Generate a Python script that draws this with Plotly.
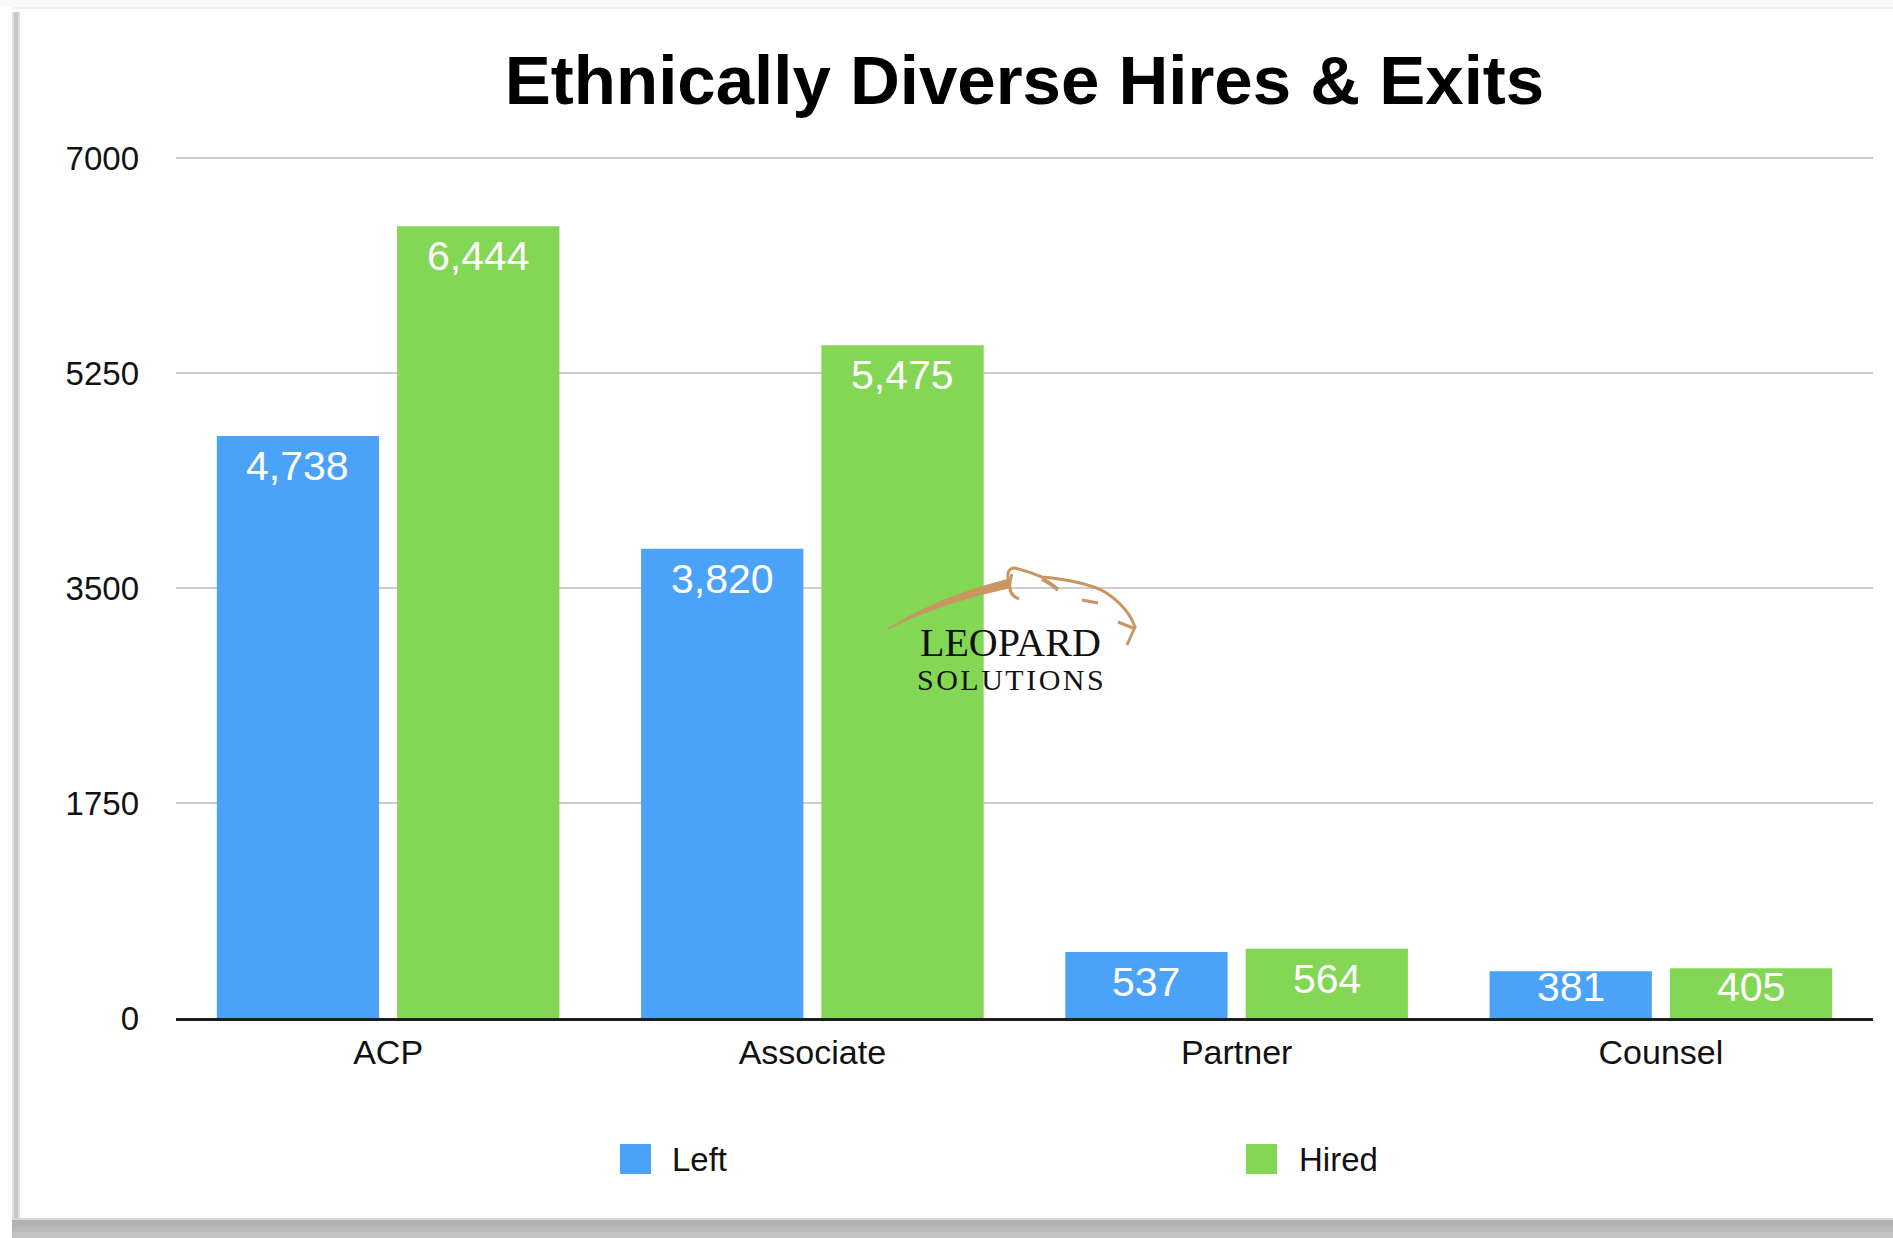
import plotly.graph_objects as go

# ---- data ----
categories = ["ACP", "Associate", "Partner", "Counsel"]
left_values = [4738, 3820, 537, 381]
hired_values = [6444, 5475, 564, 405]
y_ticks = [0, 1750, 3500, 5250, 7000]
y_tick_labels = ["0", "1750", "3500", "5250", "7000"]

# ---- styling ----
W, H = 1893, 1238
PLOT_L, PLOT_R, PLOT_T, PLOT_B = 176, 1873, 156, 1018
Y_MAX = 7000
PX_PER_UNIT = 860 / Y_MAX               # 7000 sits 860 px above the baseline
Y_TOP = (PLOT_B - PLOT_T) / PX_PER_UNIT  # a little headroom so the top gridline shows
BLUE = "#4AA3F8"
GREEN = "#84D655"
TAN = "#C9965F"
FONT = "Liberation Sans, Arial, Helvetica, sans-serif"
SERIF = "Liberation Serif, DejaVu Serif, serif"
BARGAP = 0.15


def px(x):
    """pixel x -> paper x"""
    return (x - PLOT_L) / (PLOT_R - PLOT_L)


def py(y):
    """pixel y -> paper y"""
    return (PLOT_B - y) / (PLOT_B - PLOT_T)


def rect(x0, y0, x1, y1, color, layer="below"):
    return dict(type="rect", xref="paper", yref="paper",
                x0=px(x0), x1=px(x1), y0=py(y1), y1=py(y0),
                fillcolor=color, line=dict(width=0), layer=layer)


def path(points_cmd, color, width=0, fill=None):
    parts = []
    for cmd, pts in points_cmd:
        coords = " ".join(f"{px(x):.5f},{py(y):.5f}" for x, y in pts)
        parts.append(f"{cmd} {coords}")
    d = " ".join(parts)
    shp = dict(type="path", xref="paper", yref="paper", path=d, layer="above",
               line=dict(color=color, width=width))
    if fill:
        shp["fillcolor"] = fill
        shp["path"] = d + " Z"
    return shp


fig = go.Figure()

fig.add_trace(go.Bar(
    name="Left", x=categories, y=left_values,
    marker=dict(color=BLUE, line=dict(width=0)),
    showlegend=False, hoverinfo="skip",
))
fig.add_trace(go.Bar(
    name="Hired", x=categories, y=hired_values,
    marker=dict(color=GREEN, line=dict(width=0)),
    showlegend=False, hoverinfo="skip",
))

shapes = []
# card shadow: top hairline, left edge and bottom band
shapes.append(rect(0, 0, W, 7, "#FAFAFA"))
shapes.append(rect(12, 7, W, 9, "#F1F1F1"))
shapes.append(rect(12, 12, 14, 1238, "#E2E2E2"))
shapes.append(rect(14, 12, 18, 1238, "#C8C8C8"))
shapes.append(rect(18, 12, 20, 1238, "#DDDDDD"))
shapes.append(rect(12, 1218, W, 1220, "#D6D6D6"))
shapes.append(rect(12, 1220, W, 1226, "#B2B2B2"))
shapes.append(rect(12, 1226, W, 1232, "#B8B8B8"))
shapes.append(rect(12, 1232, W, 1238, "#C2C2C2"))

# legend swatches
shapes.append(rect(620, 1144, 651, 1174, BLUE, layer="above"))
shapes.append(rect(1246, 1144, 1277, 1174, GREEN, layer="above"))

# watermark emblem (leopard outline)
shapes.append(path([("M", [(887, 629)]), ("Q", [(940, 596), (1009, 579)]),
                    ("L", [(1009, 588)]), ("Q", [(945, 601), (887, 629)])],
                   TAN, width=1, fill=TAN))
shapes.append(path([("M", [(1009, 583)]), ("Q", [(1005, 568), (1015, 568)]),
                    ("Q", [(1030, 572), (1042, 577)]),
                    ("Q", [(1085, 581), (1105, 592)]),
                    ("Q", [(1128, 607), (1135, 627)]),
                    ("L", [(1127, 645)])], TAN, width=3))
shapes.append(path([("M", [(1012, 574)]), ("Q", [(1005, 594), (1019, 599)])], TAN, width=3))
shapes.append(path([("M", [(1042, 579)]), ("Q", [(1052, 584), (1058, 590)])], TAN, width=4))
shapes.append(path([("M", [(1082, 600)]), ("L", [(1098, 603)])], TAN, width=3))
shapes.append(path([("M", [(1118, 622)]), ("L", [(1133, 628)])], TAN, width=3))

annotations = [
    dict(text="Left", xref="paper", yref="paper", x=px(670), y=py(1159),
         xanchor="left", yanchor="middle", showarrow=False,
         font=dict(size=33, color="#111", family=FONT)),
    dict(text="Hired", xref="paper", yref="paper", x=px(1297), y=py(1159),
         xanchor="left", yanchor="middle", showarrow=False,
         font=dict(size=33, color="#111", family=FONT)),
    dict(text="LEOPARD", xref="paper", yref="paper", x=px(1010), y=py(642),
         xanchor="center", yanchor="middle", showarrow=False,
         font=dict(size=40, color="#111", family=SERIF)),
    dict(text="S\u200aO\u200aL\u200aU\u200aT\u200aI\u200aO\u200aN\u200aS", xref="paper", yref="paper",
         x=px(1010), y=py(679), xanchor="center", yanchor="middle", showarrow=False,
         font=dict(size=30, color="#111", family=SERIF)),
]

# value labels inside the top of each bar (kept clear of the baseline on short bars)
offset = (1 - BARGAP) / 4
for series, shift in ((left_values, -offset), (hired_values, offset)):
    for i, v in enumerate(series):
        label_y = max(v - 30 / PX_PER_UNIT, 31 / PX_PER_UNIT)
        annotations.append(dict(
            text=f"{v:,}", x=i + shift, y=label_y, xref="x", yref="y",
            xanchor="center", yanchor="middle", showarrow=False,
            font=dict(size=41, color="white", family=FONT),
        ))

fig.update_layout(
    width=W, height=H,
    margin=dict(l=PLOT_L, r=W - PLOT_R, t=PLOT_T, b=H - PLOT_B, pad=0),
    paper_bgcolor="white", plot_bgcolor="white",
    barmode="group", bargap=BARGAP, bargroupgap=0.1,
    title=dict(text="<b>Ethnically Diverse Hires &amp; Exits</b>",
               x=0.5, xref="paper", xanchor="center",
               y=1 - 80 / H, yref="container", yanchor="middle",
               font=dict(size=69, color="#000", family=FONT)),
    font=dict(family=FONT, color="#111"),
    shapes=shapes,
    annotations=annotations,
    showlegend=False,
)
fig.update_yaxes(
    range=[0, Y_TOP], tickvals=y_ticks, ticktext=y_tick_labels,
    showgrid=True, gridcolor="#CDCDCD", gridwidth=2,
    zeroline=False, showline=False, ticks="",
    ticklabelstandoff=36,
    tickfont=dict(size=33, color="#111", family=FONT),
)
fig.update_xaxes(
    range=[-0.5, len(categories) - 0.5],
    showline=True, linecolor="#1E1E1E", linewidth=3,
    ticks="", ticklabelstandoff=2,
    tickfont=dict(size=34, color="#111", family=FONT),
)

fig.write_html("out.html")
